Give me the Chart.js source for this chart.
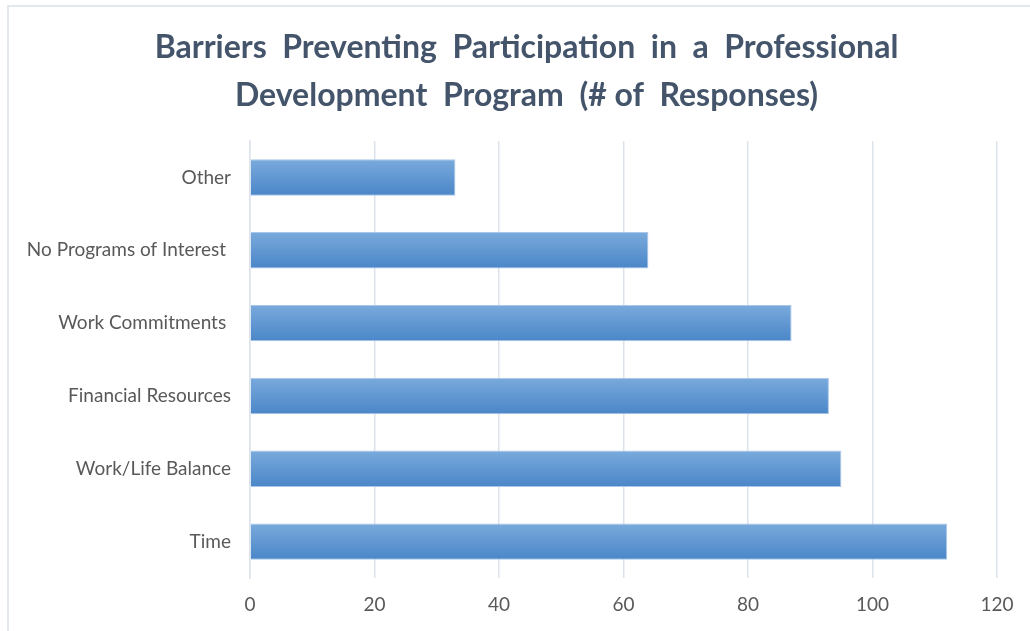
<!DOCTYPE html>
<html>
<head>
<meta charset="utf-8">
<script src="https://cdn.jsdelivr.net/npm/chart.js@4"></script>
<style>
  html, body { margin: 0; padding: 0; background: #fff; }
  #frame {
    position: absolute; left: 7px; top: 5px; width: 1030px; height: 640px;
    border-top: 2px solid #e3e8ef; border-left: 2px solid #e3e8ef;
  }
  #wrap { position: absolute; left: 0; top: 0; width: 1030px; height: 631px; }
</style>
</head>
<body>
<div id="frame"></div>
<div id="wrap"><canvas id="myChart"></canvas></div>
<script>
const labels = ["Other", "No Programs of Interest ", "Work Commitments ", "Financial Resources", "Work/Life Balance", "Time"];
const responses = [33, 64, 87, 93, 95, 112];
// leading spaces nudge the centred title right, as in the original
const titleLines = ["\u2002\u2002\u2002Barriers  Preventing  Participation  in  a  Professional", "\u2002\u2002\u2002Development  Program  (# of  Responses)"];

function barGradient(context) {
  const chart = context.chart;
  const yScale = chart.scales.y;
  if (!chart.chartArea || !yScale) return "#5b93d0";
  const center = yScale.getPixelForValue(context.dataIndex);
  const half = (yScale.height / labels.length) * 0.25;
  const g = chart.ctx.createLinearGradient(0, center - half, 0, center + half);
  g.addColorStop(0, "#7aaadc");
  g.addColorStop(1, "#4a86c8");
  return g;
}

const data = {
  labels: labels,
  datasets: [
    {
      label: "# of Responses",
      data: responses,
      backgroundColor: barGradient,
      borderColor: "#a9c7ea",
      borderWidth: 1,
      barPercentage: 0.5,
      categoryPercentage: 1
    }
  ]
};

const config = {
  type: "bar",
  data: data,
  options: {
    indexAxis: "y",
    responsive: true,
    maintainAspectRatio: false,
    animation: false,
    layout: { padding: { left: 8, right: 33, top: 0, bottom: 0 } },
    plugins: {
      legend: { display: false },
      tooltip: { enabled: false },
      title: {
        display: true,
        text: titleLines,
        color: "#44546a",
        font: { family: "Lato", size: 32, weight: "bold", lineHeight: 1.5 },
        padding: { top: 24, bottom: 21 }
      }
    },
    scales: {
      x: {
        min: 0,
        max: 120,
        ticks: { stepSize: 20, color: "#595959", padding: 15, font: { family: "Lato", size: 19 } },
        grid: { color: "#dde3ec", lineWidth: 1.5, drawTicks: false },
        border: { display: false },
        afterFit: (scale) => { scale.height = 53; }
      },
      y: {
        ticks: { color: "#595959", padding: 19, font: { family: "Lato", size: 19 } },
        grid: { display: false, drawTicks: false },
        border: { color: "#dde3ec", width: 1.5 },
        afterFit: (scale) => { scale.width = 242; }
      }
    }
  }
};

const myChart = new Chart(document.getElementById("myChart"), config);
</script>
</body>
</html>
